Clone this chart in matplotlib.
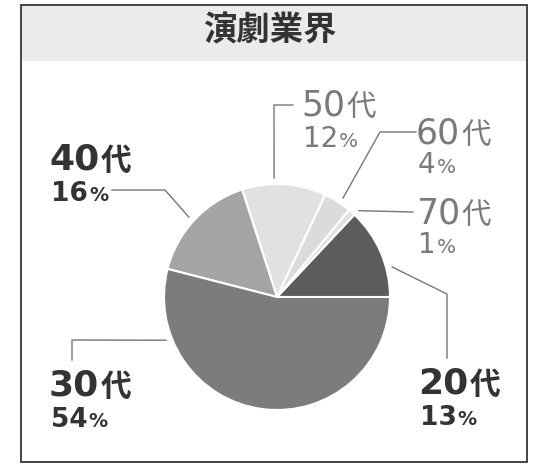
import numpy as np
import matplotlib
matplotlib.use('Agg')
import matplotlib.pyplot as plt
from matplotlib.patches import Rectangle

plt.rcParams['font.family'] = ['DejaVu Sans', 'Noto Sans CJK JP']
CJK = 'Noto Sans CJK JP'

# Data
title = '演劇業界'
ages = ['20代', '70代', '60代', '50代', '40代', '30代']
shares = [13, 1, 4, 12, 16, 54]
colors = ['#5c5c5c', '#e0e0e0', '#dbdbdb', '#e1e1e1', '#a4a4a4', '#7c7c7c']

# Layout (pixels, y down)
W, H = 537, 465
cx, cy, R = 277, 297, 113
# label: (anchor angle on pie, leader bend points, text x, name baseline, pct baseline, dark?)
layout = {
    '20代': (14.6, [(447, 294), (447, 358)], 418, 393, 425, True),
    '30代': (201.3, [(72, 340), (72, 360)], 49, 395, 427, True),
    '40代': (137.8, [(165, 190), (112, 190)], 49, 169, 201, True),
    '50代': (91.4, [(274, 105), (293, 105)], 301, 115, 147, False),
    '60代': (56.3, [(380, 132), (416, 132)], 416, 143, 173, False),
    '70代': (46.5, [(413, 212)], 416, 223, 253, False),
}

fig = plt.figure(figsize=(W / 100, H / 100), dpi=100)
ax = fig.add_axes([0, 0, 1, 1])
ax.set_xlim(0, W)
ax.set_ylim(H, 0)
ax.set_aspect('equal')
ax.axis('off')

# frame and header band
ax.add_patch(Rectangle((21, 5), 506, 56, facecolor='#ebebeb', edgecolor='none'))
ax.add_patch(Rectangle((21, 5), 506, 457, facecolor='none', edgecolor='#444444', lw=1.4))
ax.text(270, 31, title, ha='center', va='center', fontsize=24, fontweight='bold',
        color='#333333', family=CJK)

# y axis is inverted, so counterclock=False draws counterclockwise on screen
ax.pie(shares, colors=colors, startangle=0, counterclock=False, center=(cx, cy), radius=R,
       wedgeprops=dict(edgecolor='white', linewidth=1.5))
ax.set_xlim(0, W)
ax.set_ylim(H, 0)

fig.canvas.draw()
renderer = fig.canvas.get_renderer()
inv = ax.transData.inverted()

def right_edge(t):
    bb = t.get_window_extent(renderer)
    return inv.transform((bb.x1, bb.y0))[0]

for age, share in zip(ages, shares):
    ang, bends, tx, yb1, yb2, dark = layout[age]
    a = np.deg2rad(ang)
    x0 = cx + (R + 6) * np.cos(a)
    y0 = cy - (R + 6) * np.sin(a)
    xs = [x0] + [p[0] for p in bends]
    ys = [y0] + [p[1] for p in bends]
    ax.plot(xs, ys, color='#777777', lw=1)

    col = '#333333' if dark else '#7a7a7a'
    wt = 'bold' if dark else 'normal'
    big = 26 if dark else 25
    small = 19 if dark else 20

    t1 = ax.text(tx, yb1, age[:-1], ha='left', va='baseline', fontsize=big, fontweight=wt,
                 color=col)
    ax.text(right_edge(t1) + 1, yb1 + 1, age[-1], ha='left', va='baseline', fontsize=big * 0.85,
            fontweight=wt, color=col, family=CJK)

    t2 = ax.text(tx + 2, yb2, str(share), ha='left', va='baseline', fontsize=small,
                 fontweight=wt, color=col)
    ax.text(right_edge(t2) + 1, yb2, '%', ha='left', va='baseline', fontsize=small * 0.72,
            fontweight=wt, color=col)

fig.savefig('out.png', dpi=100)
